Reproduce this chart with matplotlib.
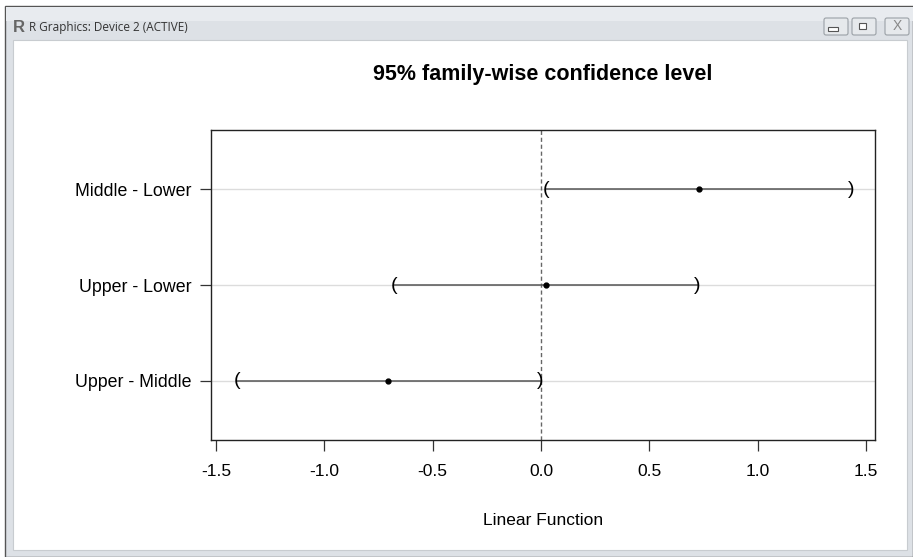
import matplotlib
matplotlib.use("Agg")
import matplotlib.pyplot as plt
from matplotlib.patches import Rectangle, FancyBboxPatch

plt.rcParams['font.family'] = ['Liberation Sans', 'DejaVu Sans']

comparisons = ["Middle - Lower", "Upper - Lower", "Upper - Middle"]
estimates = [0.727, 0.022, -0.705]
lower = [0.025, -0.678, -1.405]
upper = [1.429, 0.722, -0.005]
xticks = [-1.5, -1.0, -0.5, 0.0, 0.5, 1.0, 1.5]
xticklabels = ["-1.5", "-1.0", "-0.5", "0.0", "0.5", "1.0", "1.5"]

W, H = 913, 557
fig = plt.figure(figsize=(W / 100, H / 100), dpi=100)
fig.patch.set_facecolor("white")

# window frame
bg = fig.add_axes([0, 0, 1, 1], zorder=-10)
bg.set_xlim(0, W)
bg.set_ylim(H, 0)
bg.axis("off")
bg.add_patch(Rectangle((5, 6), 908, 551, facecolor="#dde1e6", edgecolor="#555555", lw=1.0))
bg.add_patch(Rectangle((6, 7), 907, 14, facecolor="#e8ebef", edgecolor="none"))
bg.add_patch(Rectangle((13, 40), 894, 510, facecolor="white", edgecolor="#c8ccd0", lw=0.8))
bg.text(29, 27, "R Graphics: Device 2 (ACTIVE)", fontsize=8.5, color="#333333",
        va="center", ha="left", family=["Open Sans", "DejaVu Sans"])
bg.text(13, 27, "R", fontsize=12, fontweight="bold", color="#666666", va="center", ha="left")
for bx in (822, 850, 883):
    bg.add_patch(FancyBboxPatch((bx + 2, 18), 24, 17, boxstyle="round,pad=0,rounding_size=2",
                                facecolor="#e6e9ec", edgecolor="#9aa0a6", lw=0.8))
bg.add_patch(Rectangle((828, 27), 10, 4, facecolor="white", edgecolor="#555555", lw=0.8))
bg.add_patch(Rectangle((859, 23), 7, 6, facecolor="white", edgecolor="#555555", lw=0.8))
bg.text(897, 26.5, "X", fontsize=10, color="#888888", ha="center", va="center")

# plot axes
left, right, top, bottom = 211, 875, 130, 440
ax = fig.add_axes([left / W, 1 - bottom / H, (right - left) / W, (bottom - top) / H])
ax.set_xlim(-1.523, 1.541)
ax.set_ylim(0.38, 3.62)

ypos = [3, 2, 1]
for y in ypos:
    ax.axhline(y, color="#dcdcdc", lw=1.0, zorder=1)
ax.axvline(0, color="#666666", lw=1.0, ls=(0, (3, 2)), zorder=2)

for y, e, lo, hi in zip(ypos, estimates, lower, upper):
    ax.plot([lo, hi], [y, y], color="#555555", lw=1.1, zorder=3)
    ax.text(lo, y, "(", ha="center", va="center", fontsize=14, color="black", zorder=4)
    ax.text(hi, y, ")", ha="center", va="center", fontsize=14, color="black", zorder=4)
    ax.plot([e], [y], marker="o", ms=3.5, color="black", zorder=5)

ax.set_yticks(ypos)
ax.set_yticklabels(comparisons, fontsize=12.8)
ax.set_xticks(xticks)
ax.set_xticklabels(xticklabels, fontsize=12.5)
ax.tick_params(axis="both", direction="out", length=8, width=0.9, color="#333333")
ax.tick_params(axis="x", pad=9)
ax.tick_params(axis="y", pad=6)
for s in ax.spines.values():
    s.set_linewidth(1.0)
    s.set_color("#222222")

ax.set_xlabel("Linear Function", fontsize=12.5, labelpad=25)
fig.text((left + right) / 2 / W, 1 - 75 / H, "95% family-wise confidence level",
         fontsize=15.5, fontweight="bold", ha="center", va="center")

fig.savefig("out.png", dpi=100)
